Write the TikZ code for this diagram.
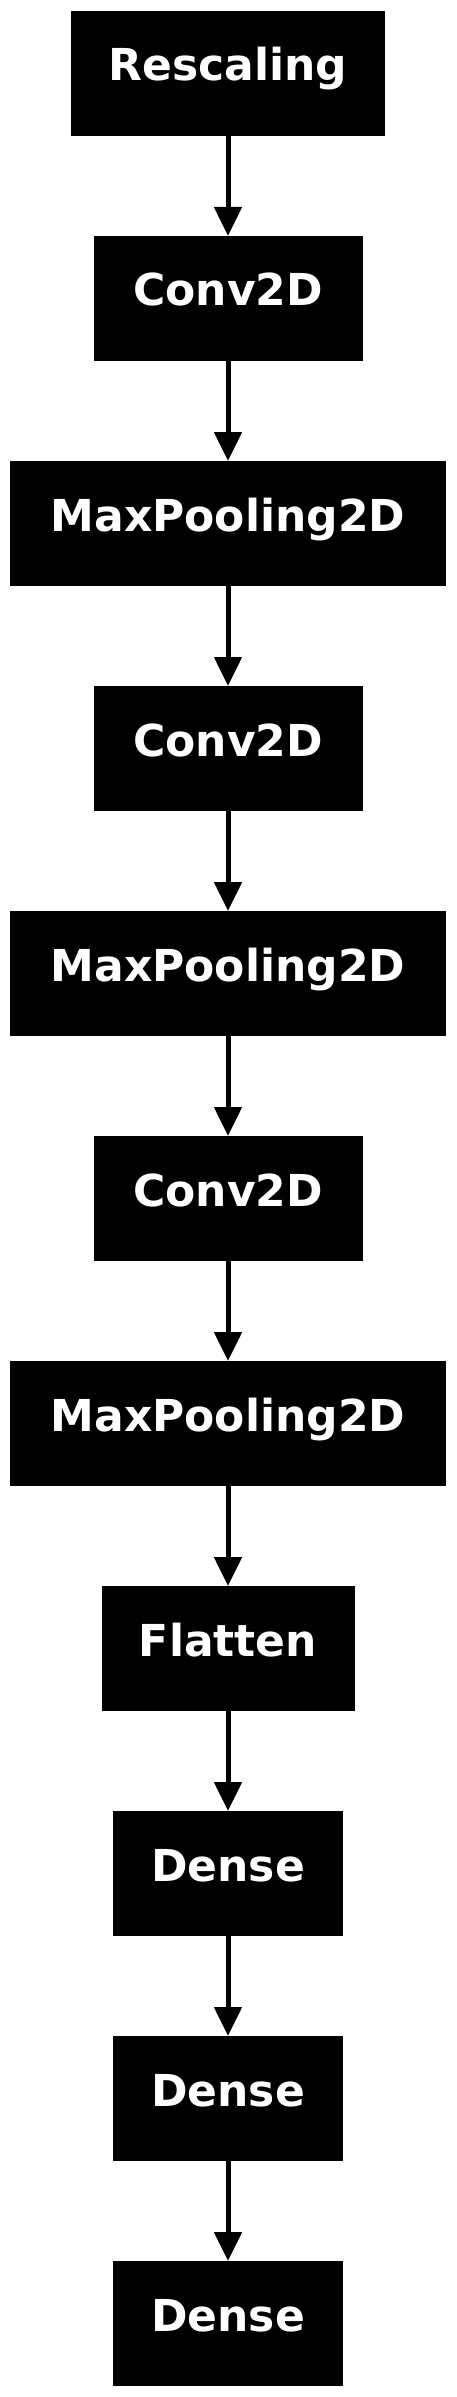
\documentclass[tikz,border=0pt]{standalone}
\usepackage{fontspec}
\setmainfont{DejaVu Sans}
\usepackage{tikz}
\usetikzlibrary{positioning, arrows.meta}

\begin{document}
\begin{tikzpicture}[
    node distance=100pt,
    every node/.style={font=\fontsize{44}{52}\selectfont\bfseries},
    layerbox/.style={fill=black, text=white, draw=none, outer sep=0pt, minimum width=#1, minimum height=125pt, text height=31pt, text depth=16pt, inner sep=0pt},
    arrow/.style={-{Triangle[length=29pt, width=27pt]}, line width=5pt},
  ]
  \useasboundingbox (0,0) rectangle (456pt,-2397pt);

  % ---- layers ----
  \node[layerbox=314pt] (resc) at (228pt,-73.5pt) {Rescaling};
  \node[layerbox=269pt, below=of resc] (conv1) {Conv2D};
  \node[layerbox=436pt, below=of conv1] (pool1) {MaxPooling2D};
  \node[layerbox=269pt, below=of pool1] (conv2) {Conv2D};
  \node[layerbox=436pt, below=of conv2] (pool2) {MaxPooling2D};
  \node[layerbox=269pt, below=of pool2] (conv3) {Conv2D};
  \node[layerbox=436pt, below=of conv3] (pool3) {MaxPooling2D};
  \node[layerbox=253pt, below=of pool3] (flat) {Flatten};
  \node[layerbox=230pt, below=of flat] (dense1) {Dense};
  \node[layerbox=230pt, below=of dense1] (dense2) {Dense};
  \node[layerbox=230pt, below=of dense2] (dense3) {Dense};

  % ---- arrows ----
  \foreach \a/\b in {resc/conv1, conv1/pool1, pool1/conv2, conv2/pool2, pool2/conv3, conv3/pool3, pool3/flat, flat/dense1, dense1/dense2, dense2/dense3}
    \draw[arrow] (\a.south) -- (\b.north);

\end{tikzpicture}
\end{document}
